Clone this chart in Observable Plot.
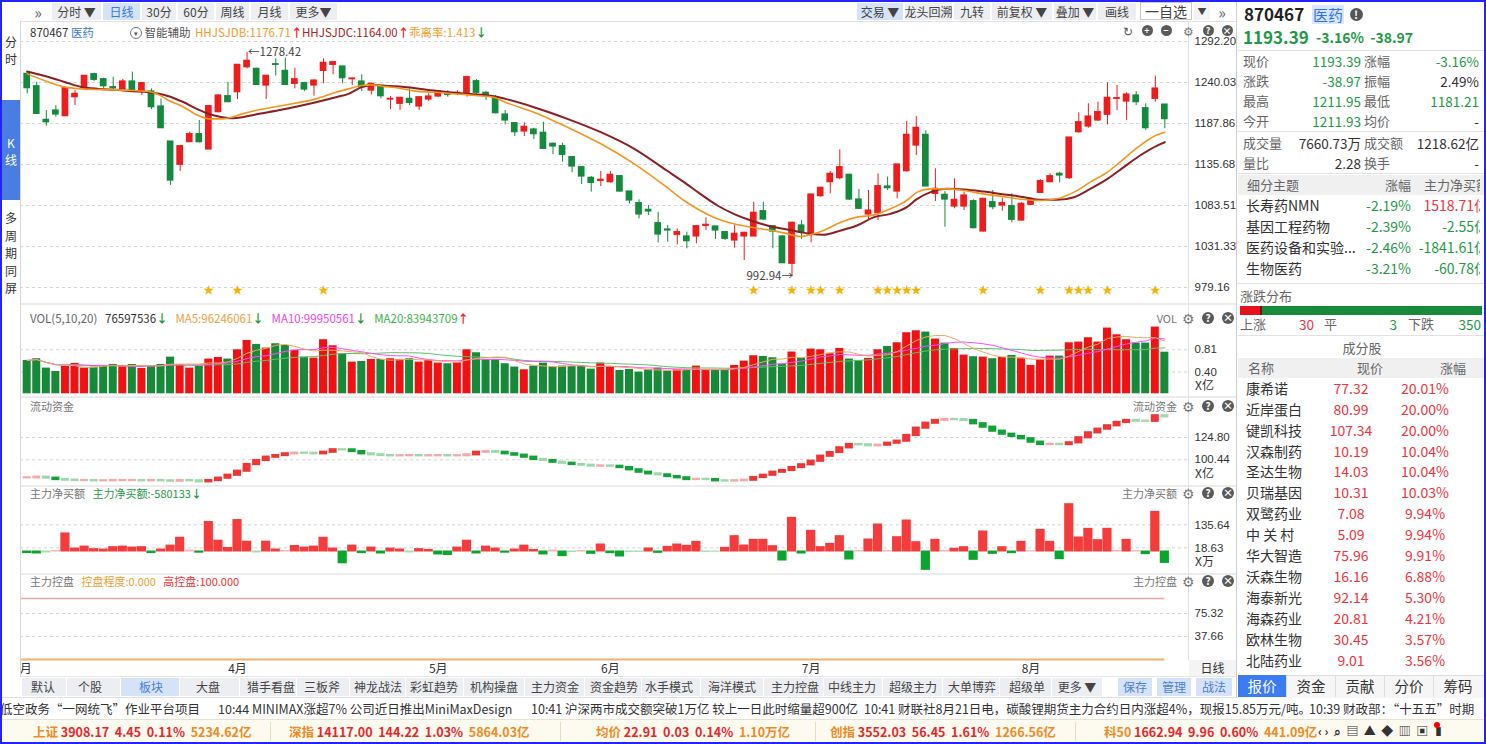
<!DOCTYPE html>
<html><head><meta charset="utf-8">
<script src="https://cdn.jsdelivr.net/npm/d3@7"></script>
<script src="https://cdn.jsdelivr.net/npm/@observablehq/plot@0.6"></script>
<style>
body{margin:0;background:#fff;}
#app{position:relative;width:1486px;height:744px;overflow:hidden;font-family:"Microsoft YaHei","Noto Sans CJK SC","Noto Sans",sans-serif;color:#333;background:#fff;}
.a{position:absolute;white-space:nowrap;}
</style></head><body><div id="app"></div>
<script>
// ---------------- DATA ----------------
const days = d3.range(120); // trading-day index
const open = [1251.0,1235.3,1192.5,1204.4,1197.2,1221.3,1232.8,1250.6,1244.2,1234.1,
1231.1,1241.3,1228.6,1228.6,1209.5,1164.9,1135.3,1164.1,1174.3,1154.8,
1202.3,1222.6,1227.7,1259.5,1257.4,1236.2,1263.3,1254.8,1238.3,1239.2,
1236.2,1254.8,1262.5,1260.4,1244.2,1241.3,1229.8,1235.3,1218.4,1212.9,
1219.2,1209.5,1218.4,1222.2,1225.6,1225.6,1226.4,1241.7,1226.9,1221.3,
1199.3,1188.3,1177.7,1180.2,1176.0,1162.0,1159.0,1145.0,1132.3,1118.7,
1114.9,1113.2,1120.8,1101.3,1086.5,1078.0,1061.0,1053.0,1046.2,1044.1,
1044.1,1057.6,1056.8,1049.6,1039.0,1044.1,1044.1,1076.3,1057.2,1044.1,
1009.3,1058.1,1046.6,1095.4,1113.2,1118.3,1122.5,1091.1,1072.1,1073.8,
1107.7,1101.3,1127.2,1159.8,1173.4,1098.3,1097.1,1082.2,1082.2,1089.0,
1050.4,1087.7,1083.5,1082.7,1064.4,1084.4,1099.6,1113.2,1123.8,1118.3,
1176.8,1184.0,1191.7,1198.9,1219.2,1215.8,1223.5,1207.3,1219.2,1211.93];
const high = [1254.0,1240.4,1204.4,1210.7,1234.1,1229.8,1248.9,1251.9,1245.5,1246.8,
1243.8,1253.2,1239.2,1231.9,1219.2,1164.9,1159.0,1176.8,1191.7,1210.7,
1224.3,1240.4,1262.5,1278.42,1258.2,1248.5,1270.1,1271.0,1258.2,1240.4,
1243.4,1270.1,1266.7,1260.4,1245.5,1249.8,1239.2,1236.2,1222.2,1220.5,
1231.9,1221.3,1225.6,1228.6,1229.8,1229.8,1248.1,1243.8,1228.6,1223.5,
1204.4,1188.7,1188.7,1181.9,1189.5,1163.2,1162.8,1145.9,1133.1,1120.4,
1126.8,1126.8,1121.7,1101.3,1090.7,1083.5,1075.0,1058.1,1053.8,1049.6,
1058.1,1067.8,1057.2,1050.4,1058.1,1049.6,1087.7,1087.7,1058.1,1045.3,
1062.3,1064.4,1097.5,1106.8,1126.8,1154.3,1123.4,1103.9,1102.6,1123.8,
1119.6,1135.7,1190.4,1196.7,1178.5,1130.2,1101.3,1117.4,1100.5,1090.7,
1092.0,1102.6,1092.8,1098.3,1086.9,1092.0,1116.2,1123.8,1125.9,1170.0,
1201.4,1212.9,1215.0,1239.6,1236.2,1226.9,1228.6,1212.9,1248.1,1211.95];
const low = [1225.6,1199.3,1184.4,1195.9,1197.2,1210.7,1231.9,1241.3,1231.9,1231.1,
1229.8,1228.6,1223.5,1205.6,1181.9,1109.0,1126.8,1164.1,1163.2,1154.8,
1201.4,1215.0,1218.4,1257.4,1236.2,1218.4,1248.1,1236.2,1231.9,1228.6,
1222.6,1238.3,1249.8,1238.3,1236.2,1228.6,1224.3,1219.2,1205.6,1204.4,
1210.7,1204.4,1215.8,1221.3,1221.3,1223.5,1221.3,1224.3,1217.1,1200.1,
1186.1,1171.3,1171.3,1167.5,1155.6,1148.0,1138.6,1125.1,1110.2,1100.5,
1107.7,1111.9,1100.5,1085.6,1066.5,1070.8,1036.0,1036.9,1033.5,1028.4,
1034.7,1051.7,1040.3,1039.0,1029.2,1013.5,1044.1,1064.4,1028.4,1010.1,
992.94,1040.3,1036.0,1094.1,1098.3,1116.2,1089.9,1078.4,1065.7,1064.4,
1102.6,1092.0,1125.9,1147.1,1107.7,1088.6,1056.0,1079.3,1077.1,1053.8,
1049.6,1078.0,1076.3,1061.5,1063.6,1083.5,1099.6,1112.3,1112.3,1116.6,
1175.5,1181.9,1190.4,1186.1,1204.4,1191.7,1210.7,1179.0,1215.0,1181.21];
const close = [1232.8,1200.1,1189.5,1199.3,1232.8,1225.6,1248.5,1243.4,1235.3,1232.8,
1241.3,1229.8,1239.2,1208.6,1181.9,1115.3,1159.0,1174.3,1164.1,1209.9,
1223.5,1215.0,1262.5,1267.6,1237.0,1248.5,1262.5,1237.0,1244.2,1231.1,
1242.5,1265.0,1265.9,1245.5,1245.1,1234.1,1238.3,1222.6,1219.2,1220.5,
1214.1,1221.3,1222.2,1227.7,1224.3,1226.9,1246.8,1226.9,1222.6,1201.0,
1191.7,1176.8,1183.6,1174.3,1155.6,1158.6,1148.0,1133.1,1120.4,1112.3,
1116.2,1122.5,1101.3,1089.9,1072.1,1075.9,1046.6,1051.7,1049.6,1038.1,
1057.2,1058.9,1051.7,1041.1,1047.5,1048.7,1074.2,1065.7,1050.4,1010.1,
1061.5,1049.6,1097.5,1106.0,1123.8,1132.3,1091.1,1079.3,1077.1,1108.1,
1105.6,1135.7,1173.4,1182.3,1107.7,1104.7,1091.1,1090.7,1096.2,1054.7,
1092.0,1081.4,1086.5,1065.3,1085.6,1091.1,1114.5,1120.8,1121.7,1170.0,
1189.5,1196.7,1202.3,1220.5,1220.1,1224.7,1215.0,1181.9,1232.36,1193.39];
// smooth indicator lines HHJSJDB / HHJSJDC read at these day positions
const lineAt = [0,2.3,4,5.75,7.5,9.2,11,12.7,13.8,14.8,16.2,17.9,19,20.4,21.4,22.5,23.9,26.7,30.2,32.3,
33.6,35,36.1,37.1,38.9,40.6,42.5,46,48.8,50,53,56.5,60,63.5,66.9,68.7,70.4,72.2,73.9,75.7,
77.4,79.1,80.9,81.9,83.3,85.1,86.8,88.6,90.3,92,93.1,94.5,96.2,98,100,102.5,104.3,106,107.7,109.5,
111.2,113,114.7,116.4,118.2,119];
const hhjsjdb = [1251.0,1240.4,1234.1,1231.9,1231.1,1230.7,1229.8,1228.6,1224.3,1217.1,1209.9,1198.0,1193.8,1193.8,1195.9,1200.1,1204.4,1210.7,1219.2,1227.7,
1231.9,1236.2,1237.0,1235.3,1232.8,1229.0,1227.7,1224.3,1221.3,1215.0,1202.3,1183.2,1162.0,1136.5,1106.8,1089.9,1077.1,1066.5,1060.2,1055.9,
1052.6,1048.7,1044.1,1046.2,1051.7,1062.3,1068.7,1071.6,1079.3,1089.9,1100.5,1104.7,1104.7,1102.6,1098.3,1094.1,1091.1,1089.9,1092.0,1100.5,
1113.2,1125.9,1142.9,1159.8,1173.4,1176.71];
const hhjsjdc = [1254.0,1246.8,1240.4,1234.1,1231.9,1230.7,1229.0,1227.7,1225.6,1222.6,1215.8,1205.6,1200.1,1195.9,1194.6,1195.9,1199.3,1205.6,1215.0,1221.3,
1225.6,1234.1,1237.0,1236.2,1234.9,1232.8,1229.8,1225.6,1222.6,1219.2,1208.6,1193.8,1176.8,1155.6,1128.0,1113.2,1098.3,1083.5,1072.9,1064.4,
1058.1,1053.8,1049.6,1047.5,1046.2,1051.7,1058.1,1068.7,1072.9,1081.4,1092.0,1100.5,1104.7,1103.9,1101.3,1097.1,1094.1,1090.7,1090.7,1094.1,
1104.7,1117.4,1132.3,1147.1,1159.8,1164.00];
const starDays = [19,22,31,76,80,82,83,85,89,90,91,92,93,100,106,109,110,111,113,118];
// volume, 亿
const volume = [0.614,0.645,0.473,0.411,0.503,0.559,0.473,0.491,0.522,0.540,
0.516,0.540,0.467,0.503,0.540,0.675,0.540,0.473,0.510,0.639,
0.669,0.639,0.810,0.982,0.909,0.841,0.921,0.890,0.798,0.675,
0.657,0.995,0.884,0.737,0.583,0.596,0.632,0.632,0.645,0.626,
0.645,0.583,0.614,0.565,0.553,0.571,0.810,0.755,0.626,0.626,
0.553,0.491,0.442,0.510,0.565,0.491,0.510,0.503,0.510,0.454,
0.565,0.503,0.430,0.448,0.399,0.442,0.473,0.418,0.442,0.442,
0.510,0.442,0.430,0.430,0.522,0.602,0.700,0.688,0.663,0.546,
0.768,0.657,0.823,0.810,0.737,0.835,0.639,0.608,0.651,0.810,
0.872,0.939,1.124,1.160,1.136,1.007,0.933,0.835,0.712,0.682,
0.675,0.645,0.669,0.706,0.645,0.522,0.626,0.694,0.694,0.939,
0.952,1.032,0.952,1.210,1.087,0.995,0.933,0.933,1.228,0.766];
// 流动资金, 亿
const liquidity = [80.8,81.5,80.4,78.9,78.2,77.8,77.8,77.5,77.5,77.8,
77.8,77.8,77.5,77.8,77.5,77.1,77.8,77.5,76.4,77.8,
80.4,83.6,88.0,95.3,99.7,103.3,105.1,107.0,107.7,107.6,
107.0,108.7,111.4,111.3,109.5,107.0,105.9,105.1,104.8,104.9,
105.1,104.8,104.9,105.1,104.8,104.9,105.9,108.7,109.5,108.7,
107.0,105.5,103.3,100.8,99.7,97.8,96.7,95.3,94.5,93.5,
93.8,93.4,92.0,89.5,86.9,85.1,84.0,82.2,80.8,78.9,
79.2,78.9,77.5,77.3,77.6,78.2,81.1,83.6,86.9,88.8,
92.0,95.0,98.9,104.4,108.4,113.5,117.2,116.8,115.7,116.4,
118.6,120.8,127.0,135.0,140.4,143.4,144.5,144.3,143.4,139.8,
136.1,131.7,128.4,125.9,123.4,119.7,117.2,117.3,117.1,119.0,
124.5,129.9,133.9,137.6,141.2,143.4,142.6,142.5,148.5,147.4];
// 主力净买额, 万
const netBuy = [-8,-10,-5,3,92,15,25,12,10,22,
25,20,22,-8,10,30,70,5,-6,150,
55,18,160,50,-5,50,10,3,28,20,
25,70,15,-60,30,-8,20,-10,15,10,
-5,12,8,-15,-18,20,55,-10,25,15,
-6,10,30,8,-15,5,-23.7,-3,3,-11.9,
35.6,-8.5,-25.4,-3,-2,15.3,-6.8,23.7,35.6,28.8,
49.2,-2,-1,18.7,78.0,30.5,59.4,59.4,27.1,-45.8,
171.3,-10.2,105.2,22.0,39.0,78.0,-40.7,3,61.1,137.4,
3,72.9,157.7,47.5,-93.3,59.4,3,13.6,22.0,-42.4,
101.8,-11.9,22.0,-8.5,49.2,2,110.2,49.2,-39.0,240.8,
71.2,115.3,57.7,115.3,3,59.4,2,-13.6,201.8,-58.01];
const controlLevels = [{name:"高控盘", v:100.000}, {name:"控盘程度", v:0.000}];
const priceTicks = [1292.20,1240.03,1187.86,1135.68,1083.51,1031.33,979.16];
const volTicks = [0.81,0.40];
const liqTicks = [124.80,100.44];
const netTicks = [135.64,18.63];
const ctrlTicks = [75.32,37.66];
const monthLabels = ["3月","4月","5月","6月","7月","8月"];
const monthStart = [-0.5,22,43,61,82,105];

// ---------------- HELPERS ----------------
const app = document.getElementById("app");
function mk(x,y,w,h,st,parent){const d=document.createElement("div");d.className="a";d.style.left=x+"px";d.style.top=y+"px";if(w!=null)d.style.width=w+"px";if(h!=null)d.style.height=h+"px";Object.assign(d.style,st||{});(parent||app).appendChild(d);return d;}
function tx(x,y,html,o){o=o||{};const fs=o.fs||12;const h=Math.round(fs*1.5);const d=document.createElement("div");d.className="a";d.innerHTML=html;d.style.top=(y-h/2)+"px";d.style.height=h+"px";d.style.lineHeight=h+"px";d.style.fontSize=fs+"px";d.style.color=o.c||"#333";if(o.b)d.style.fontWeight=(o.b===true?"bold":o.b);if(o.a==="r"){d.style.left=(x-400)+"px";d.style.width="400px";d.style.textAlign="right";}else if(o.a==="c"){d.style.left=(x-200)+"px";d.style.width="400px";d.style.textAlign="center";}else d.style.left=x+"px";if(o.z!=null)d.style.zIndex=o.z;(o.parent||app).appendChild(d);return d;}
function cell(x1,x2,y1,y2,label,o){o=o||{};mk(x1,y1,x2-x1,y2-y1,Object.assign({background:o.bg||"#eceef2"},o.st||{}));tx(o.cx!=null?o.cx:(x1+x2)/2,(y1+y2)/2,label,{a:"c",fs:o.fs||12,c:o.c||"#444"});}
function circ(x,y,ch,bg,sz){sz=sz||12;const d=mk(x-sz/2,y-sz/2,sz,sz,{background:bg||"#5a5a5a",borderRadius:"50%",color:"#fff",fontSize:(sz-2)+"px",fontWeight:"bold",lineHeight:sz+"px",textAlign:"center"});d.textContent=ch;}
function gear(x,y,fs){tx(x,y,"⚙",{a:"c",fs:fs||14,c:"#777"});}
const UP="<b style='color:#f22'>↑</b>", DN="<b style='color:#1a9a3a'>↓</b>";

// ---------------- PLOT PANELS ----------------
const RED="#ee1c1c", GREEN="#138a3c";
const X = {domain:[-0.7,121.37], range:[0,1167], axis:null};
const baseStyle = {fontFamily:'"Microsoft YaHei","Noto Sans CJK SC",sans-serif', fontSize:"12px", color:"#333", background:"transparent", overflow:"visible"};
function mount(top,height,y,marks){
  const p = Plot.plot({width:1216,height,marginLeft:0,marginRight:49,marginTop:0,marginBottom:0,x:X,y:Object.assign({axis:null,label:null},y),color:{type:"identity"},style:baseStyle,marks});
  const w = mk(20,top,1216,height,{});
  w.appendChild(p);
}
function grid(ticks){return Plot.ruleY(ticks,{y:d=>d,stroke:"#d4d4d4",strokeDasharray:"3,3"});}
function tickText(ticks){return Plot.text(ticks,{y:d=>d,frameAnchor:"right",dx:7,textAnchor:"start",text:d=>d.toFixed(2),fill:"#333",fontSize:11.5,fontFamily:'"Liberation Sans","Noto Sans",sans-serif'});}

const candles = days.map(i=>({i,o:open[i],h:high[i],l:low[i],c:close[i],up:close[i]>=open[i]}));
const bRows = lineAt.map((x,k)=>({i:x,v:hhjsjdb[k]}));
const cRows = lineAt.map((x,k)=>({i:x,v:hhjsjdc[k]}));
const hiDay = d3.maxIndex(high), loDay = d3.minIndex(low);

mount(40,258,{domain:[979.16,1292.2],range:[247,1]},[
  grid(priceTicks),
  Plot.ruleX(candles,{x:"i",y1:"l",y2:"h",stroke:d=>d.up?RED:GREEN,strokeWidth:1}),
  Plot.rect(candles,{x1:d=>d.i-0.35,x2:d=>d.i+0.35,y1:"o",y2:"c",fill:d=>d.up?RED:GREEN,insetTop:-0.6,insetBottom:-0.6}),
  Plot.line(cRows,{x:"i",y:"v",stroke:"#8b1f22",strokeWidth:2,curve:"monotone-x"}),
  Plot.line(bRows,{x:"i",y:"v",stroke:"#f7941d",strokeWidth:1.6,curve:"monotone-x"}),
  Plot.text(starDays,{x:d=>d,frameAnchor:"bottom",dy:-5,text:()=>"★",fill:"#f5b400",fontSize:11}),
  Plot.text([hiDay],{x:d=>d,y:d=>high[d],text:d=>"←"+high[d].toFixed(2),textAnchor:"start",dx:1,fill:"#444",fontSize:11.5}),
  Plot.text([loDay],{x:d=>d,y:d=>low[d],text:d=>low[d].toFixed(2)+"→",textAnchor:"end",dx:1,fill:"#444",fontSize:11.5}),
  tickText(priceTicks)
]);

const volRows = days.map(i=>({i,v:volume[i],up:close[i]>=open[i]}));
mount(305,92,{domain:[0,1.625],range:[88.3,0]},[
  grid(volTicks),
  Plot.rect(volRows,{x1:d=>d.i-0.42,x2:d=>d.i+0.42,y1:()=>0,y2:"v",fill:d=>d.up?"#f01212":"#178a39"}),
  Plot.line(volRows,Plot.windowY({k:20,anchor:"end"},{x:"i",y:"v",stroke:"#5ac466",strokeWidth:1})),
  Plot.line(volRows,Plot.windowY({k:10,anchor:"end"},{x:"i",y:"v",stroke:"#ff4cff",strokeWidth:1})),
  Plot.line(volRows,Plot.windowY({k:5,anchor:"end"},{x:"i",y:"v",stroke:"#f3a85e",strokeWidth:1})),
  tickText(volTicks)
]);

const liqRows = days.map(i=>({i,p:liquidity[i>0?i-1:0],v:liquidity[i]}));
function liqColor(d){const dv=d.v-d.p;return dv>=1.2?"#f03535":dv>=0?"#f6a9a9":dv<=-1.2?"#12a338":"#9fd8ad";}
mount(400,86,{domain:[71.3,165.2],range:[86,0]},[
  grid(liqTicks),
  Plot.rect(liqRows,{x1:d=>d.i-0.42,x2:d=>d.i+0.42,y1:"p",y2:"v",fill:liqColor,insetTop:-1.1,insetBottom:-1.1}),
  tickText(liqTicks)
]);

const netRows = days.map(i=>({i,v:netBuy[i]}));
function netColor(d){return d.v>=6?"#f43c3c":d.v>=0?"#f6b6b6":d.v<=-6?"#0aa52c":"#a6dcb2";}
mount(487,85,{domain:[-106.8,325.6],range:[85,0]},[
  grid(netTicks),
  Plot.rect(netRows,{x1:d=>d.i-0.48,x2:d=>d.i+0.48,y1:()=>0,y2:"v",fill:netColor,insetTop:-0.5,insetBottom:-0.5}),
  tickText(netTicks)
]);

mount(575,85,{domain:[-1.6,137.5],range:[85,0]},[
  grid(ctrlTicks),
  Plot.ruleY(controlLevels,{y:"v",x1:()=>-0.7,x2:()=>119,stroke:d=>d.name==="高控盘"?"#f4a2a2":"#f0b26e",strokeWidth:d=>d.name==="高控盘"?1.5:2}),
  tickText(ctrlTicks)
]);

// date axis
{
  const p = Plot.plot({width:1216,height:17,marginLeft:0,marginRight:49,marginTop:0,marginBottom:0,x:X,style:baseStyle,
    marks:[Plot.text(monthLabels,{x:(d,k)=>monthStart[k],frameAnchor:"middle",text:d=>d,fill:"#333",fontSize:12})]});
  mk(20,660,1216,17,{}).appendChild(p);
}

// ---------------- CHROME ----------------
mk(20,21,1216,1,{background:"#e2e2e2"});
[303,396,485,573].forEach(y=>mk(20,y,1216,2,{background:"#ececec"}));
mk(1188,22,1,638,{background:"#e2e2e2"});
mk(1236,0,1,697,{background:"#cfcfcf"});
mk(20,676,1216,1,{background:"#e6e6e6"});
// top toolbar
tx(38,11.5,"»",{a:"c",fs:16,c:"#666"});
cell(52,101,3,20,"分时 ▼",{});
cell(103,140,3,20,"日线",{bg:"#d5e3f8",c:"#3a78d8"});
cell(142,176,3,20,"30分",{});
cell(178,214,3,20,"60分",{});
cell(216,249,3,20,"周线",{});
cell(251,288,3,20,"月线",{});
cell(290,337,3,20,"更多▼",{});
cell(857,903,3,20,"交易 ▼",{bg:"#d5e3f8"});
cell(905,952,3,20,"龙头回溯",{});
cell(954,990,3,20,"九转",{});
cell(992,1052,3,20,"前复权 ▼",{});
cell(1054,1096,3,20,"叠加 ▼",{});
cell(1098,1136,3,20,"画线",{});
cell(1140,1192,2,20,"一自选",{bg:"#fff",fs:14,st:{border:"1px solid #c8c8c8",boxSizing:"border-box"}});
cell(1194,1210,3,20,"▼",{bg:"#f2f3f6",fs:9});
tx(1222,11.5,"»",{a:"c",fs:16,c:"#666"});
// info line
tx(30,32,"870467 <span style='color:#3a7bd5'>医药</span>",{fs:11.5,c:"#333"});
tx(130,32,"<span style='display:inline-block;width:10px;height:10px;border:1px solid #777;border-radius:50%;font-size:7px;line-height:10px;text-align:center;vertical-align:middle;color:#555'>▾</span> 智能辅助",{fs:11.5,c:"#555"});
tx(195,32,"HHJSJDB:1176.71"+UP,{fs:11.5,c:"#f39a2e"});
tx(302,32,"HHJSJDC:1164.00"+UP,{fs:11.5,c:"#b02424"});
tx(409,32,"乖离率:1.413"+DN,{fs:11.5,c:"#f3a032"});
tx(1128,30.5,"↻",{a:"c",fs:12,c:"#555"});
circ(1147,30.5,"+",null,11);circ(1166,30.5,"−",null,11);gear(1188,30.5,12);circ(1208,30.5,"?",null,11);circ(1227,30.5,"×",null,11);
// panel headers
tx(30,318,"VOL(5,10,20)&nbsp;&nbsp;&nbsp;<span style='color:#333'>76597536</span>"+DN+"&nbsp;&nbsp;&nbsp;<span style='color:#f0a040'>MA5:96246061</span>"+DN+"&nbsp;&nbsp;&nbsp;<span style='color:#ee44ee'>MA10:99950561</span>"+DN+"&nbsp;&nbsp;&nbsp;<span style='color:#3cb44a'>MA20:83943709</span>"+UP,{fs:11.5,c:"#666"});
tx(30,406,"流动资金",{fs:11,c:"#777"});
tx(30,493,"主力净买额&nbsp;&nbsp;&nbsp;<span style='color:#2a9a4a'>主力净买额:-580133</span>"+DN,{fs:11,c:"#777"});
tx(30,581,"主力控盘&nbsp;&nbsp;&nbsp;<span style='color:#f0a030'>控盘程度:0.000</span>&nbsp;&nbsp;&nbsp;<span style='color:#e33'>高控盘:100.000</span>",{fs:11,c:"#777"});
[[318,"VOL"],[406,"流动资金"],[493,"主力净买额"],[581,"主力控盘"]].forEach(([y,t])=>{tx(1177,y,t,{a:"r",fs:11,c:"#777"});gear(1188,y);circ(1208,y,"?");circ(1228,y,"×");});
tx(1195,385,"X亿",{fs:12});tx(1195,473,"X亿",{fs:12});tx(1195,561,"X万",{fs:12});
cell(1189,1236,660,676,"日线",{bg:"#f4f4f4",c:"#333"});
// bottom toolbar
const tb=[[22,66,"默认",43],[67,120,"个股",90],[121,179,"板块",151,1],[180,239,"大盘",208],[240,296,"猎手看盘",271],[297,349,"三板斧",322],[350,405,"神龙战法",378],[406,463,"彩虹趋势",434],[464,524,"机构操盘",494],[525,584,"主力资金",555],[585,641,"资金趋势",614],[642,700,"水手模式",669],[701,763,"海洋模式",732],[764,823,"主力控盘",795],[824,882,"中线主力",852],[883,942,"超级主力",913],[943,999,"大单博弈",972],[1000,1051,"超级单",1027],[1052,1102,"更多 ▼",1077]];
tb.forEach(([a,b,t,c,h])=>cell(a,b,678,696,t,{cx:c,bg:h?"#d5e3f8":"#eceef2",c:h?"#4a7fd8":"#444"}));
cell(1118,1152,678,696,"保存",{bg:"#d5e3f8",c:"#4a7fd8"});
cell(1157,1191,678,696,"管理",{bg:"#d5e3f8",c:"#4a7fd8"});
cell(1196,1232,678,696,"战法",{bg:"#d5e3f8",c:"#4a7fd8"});
// news row
mk(0,697,1486,1,{background:"#e0e0e0"});
tx(0,708,"低空政务“一网统飞”作业平台项目",{fs:12.5});
tx(218,708,"10:44 MINIMAX涨超7% 公司近日推出MiniMaxDesign",{fs:12.5});
tx(531,708,"10:41 沪深两市成交额突破1万亿 较上一日此时缩量超900亿",{fs:12.5});
tx(864,708,"10:41 财联社8月21日电，碳酸锂期货主力合约日内涨超4%，现报15.85万元/吨。",{fs:12.5});
tx(1309,708,"10:39 财政部：“十五五”时期",{fs:12.5});
// index bar
mk(0,719,1486,25,{background:"#fdfaf0",borderTop:"1px solid #e8e2cf"});
const O="#f08a24", R="#e8262b";
function idx(x,name,a,b,c,d){tx(x,731,"<span style='color:"+O+"'>"+name+"</span> <span style='color:"+R+"'>"+a+"&nbsp; "+b+"&nbsp; "+c+"</span>&nbsp; <span style='color:"+O+"'>"+d+"</span>",{fs:12.5,b:"bold"});}
idx(33,"上证","3908.17","4.45","0.11%","5234.62亿");
idx(289,"深指","14117.00","144.22","1.03%","5864.03亿");
idx(596,"均价","22.91","0.03","0.14%","1.10万亿");
idx(830,"创指","3552.03","56.45","1.61%","1266.56亿");
idx(1104,"科50","1662.94","9.96","0.60%","441.09亿");
[270,560,815,1075].forEach(x=>mk(x,722,1,19,{background:"#e6dcc0"}));
tx(1318,731,"‹ ›&nbsp; ⌕&nbsp; ▤&nbsp; ▲&nbsp; ◆&nbsp; ▥&nbsp; ▣&nbsp; ▮",{fs:12,c:"#333",b:"bold"});
mk(1434,722,6,6,{background:"#f00",borderRadius:"50%"});
// left sidebar
mk(2,22,18,655,{background:"#fff",borderRight:"1px solid #d8d8d8",zIndex:5});
tx(11,42,"分",{a:"c",fs:12,z:6});tx(11,59,"时",{a:"c",fs:12,z:6});
mk(2,100,18,100,{background:"#4a7de2",zIndex:6});
tx(11,143,"K",{a:"c",fs:12,c:"#fff",z:7});tx(11,160,"线",{a:"c",fs:12,c:"#fff",z:7});
["多","周","期","同","屏"].forEach((t,k)=>tx(11,218+k*17.5,t,{a:"c",fs:12,z:6}));
mk(2,677,18,20,{background:"#fff",zIndex:5});

// ---------------- RIGHT PANEL ----------------
const G="#1e9a47", RR="#f0333c";
tx(1244,14,"870467",{fs:17,b:"bold",c:"#222"});
mk(1312,5,32,19,{background:"#d9e6fc"});
tx(1328,14.5,"医药",{a:"c",fs:15,c:"#2f74ee"});
circ(1356,14,"!","#555",13);
tx(1243,37,"1193.39",{fs:17,b:"bold",c:G});
tx(1316,37,"-3.16%&nbsp; -38.97",{fs:14,b:"bold",c:G});
[50,131,173,283,335].forEach(y=>mk(1238,y,246,1,{background:"#e2e2e2"}));
const quoteRows=[[61,"现价","1193.39",G,"涨幅","-3.16%",G],[81,"涨跌","-38.97",G,"振幅","2.49%","#333"],[101,"最高","1211.95",G,"最低","1181.21",G],[121,"今开","1211.93",G,"均价","-","#333"],[143,"成交量","7660.73万","#333","成交额","1218.62亿","#333"],[163,"量比","2.28","#333","换手","-","#333"]];
quoteRows.forEach(([y,l1,v1,c1,l2,v2,c2])=>{tx(1243,y,l1,{fs:13,c:"#666"});tx(1361,y,v1,{a:"r",fs:13.5,c:c1});tx(1364,y,l2,{fs:13,c:"#666"});tx(1479,y,v2,{a:"r",fs:13.5,c:c2});});
mk(1238,175,246,20,{background:"#f0f0f0"});
const clip1=mk(1238,175,242,105,{overflow:"hidden"});
tx(9,10,"细分主题",{fs:13,c:"#666",parent:clip1});
tx(173,10,"涨幅",{a:"r",fs:13,c:"#666",parent:clip1});
tx(186,10,"主力净买额",{fs:13,c:"#666",parent:clip1});
const themes=[["长寿药NMN","-2.19%","1518.71亿",RR],["基因工程药物","-2.39%","-2.55亿",G],["医药设备和实验...","-2.46%","-1841.61亿",G],["生物医药","-3.21%","-60.78亿",G]];
themes.forEach(([n,p,v,c],k)=>{const y=30+k*21;tx(8,y,n,{fs:14,c:"#333",parent:clip1});tx(173,y,p,{a:"r",fs:14,c:G,parent:clip1});tx(250,y,v,{a:"r",fs:14,c:c,parent:clip1});});
tx(1240,296,"涨跌分布",{fs:13,c:"#666"});
mk(1240,306,20,9,{background:"#e8121a"});
mk(1260,306,2,9,{background:"#5a1a1a"});
mk(1262,306,220,9,{background:"#178a3c"});
tx(1240,324,"上涨",{fs:13,c:"#666"});
tx(1314,324,"30",{a:"r",fs:13.5,c:RR});
tx(1324,324,"平",{fs:13,c:"#666"});
tx(1397,324,"3",{a:"r",fs:13.5,c:G});
tx(1408,324,"下跌",{fs:13,c:"#666"});
tx(1481,324,"350",{a:"r",fs:13.5,c:G});
tx(1362,348,"成分股",{a:"c",fs:13,c:"#666"});
mk(1238,358,246,20,{background:"#f0f0f0"});
tx(1248,368,"名称",{fs:13,c:"#666"});tx(1357,368,"现价",{fs:13,c:"#666"});tx(1440,368,"涨幅",{fs:13,c:"#666"});
const stockNames=["康希诺","近岸蛋白","键凯科技","汉森制药","圣达生物","贝瑞基因","双鹭药业","中 关 村","华大智造","沃森生物","海泰新光","海森药业","欧林生物","北陆药业"];
const stockPrice=["77.32","80.99","107.34","10.19","14.03","10.31","7.08","5.09","75.96","16.16","92.14","20.81","30.45","9.01"];
const stockPct=["20.01%","20.00%","20.00%","10.04%","10.04%","10.03%","9.94%","9.94%","9.91%","6.88%","5.30%","4.21%","3.57%","3.56%"];
stockNames.forEach((n,k)=>{const y=388.3+k*20.9;tx(1246,y,n,{fs:14,c:"#333"});tx(1351,y,stockPrice[k],{a:"c",fs:14,c:RR});tx(1425,y,stockPct[k],{a:"c",fs:14,c:RR});});
mk(1238,675,246,22,{background:"#f6f6f6",borderTop:"1px solid #ddd"});
mk(1238,675,48,22,{background:"#3b7cf2"});
[["报价",1262,"#fff"],["资金",1311,"#333"],["贡献",1360,"#333"],["分价",1409,"#333"],["筹码",1458,"#333"]].forEach(([t,x,c])=>tx(x,686,t,{a:"c",fs:14.5,c}));
[1286,1335,1384,1433].forEach(x=>mk(x,676,1,21,{background:"#ddd"}));

// outer border
mk(0,0,1486,744,{border:"2px solid #2323ff",boxSizing:"border-box",zIndex:50,pointerEvents:"none"});
</script></body></html>
